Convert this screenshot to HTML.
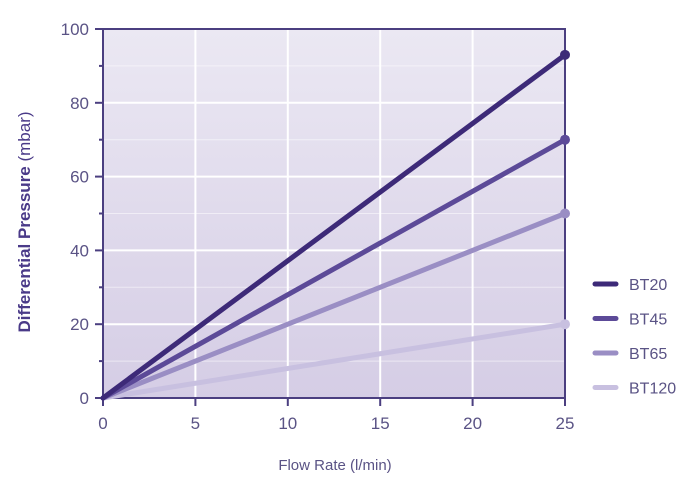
<!DOCTYPE html>
<html><head><meta charset="utf-8"><style>
body{margin:0;background:#fff;width:700px;height:494px;overflow:hidden}
text{font-family:"Liberation Sans",sans-serif}
</style></head><body>
<svg width="700" height="494">
<defs><linearGradient id="bg" x1="0" y1="0" x2="0" y2="1"><stop offset="0" stop-color="#ebe8f3"/><stop offset="1" stop-color="#d5cde5"/></linearGradient></defs>
<rect x="103" y="29" width="462" height="369" fill="url(#bg)"/>
<g id="grid"></g><g id="axes"></g><g id="series"></g><g id="legend"></g>
<text x="335" y="470" text-anchor="middle" font-size="15" fill="#5a5385">Flow Rate (l/min)</text>
<text transform="translate(30,222) rotate(-90)" text-anchor="middle" font-size="17" fill="#4a3a88"><tspan font-weight="bold">Differential Pressure</tspan> (mbar)</text>
</svg>
<script>
const xTicks=[0,5,10,15,20,25];
const yTicks=[0,20,40,60,80,100];
const seriesNames=["BT20","BT45","BT65","BT120"];
const endValues=[93,70,50,20];
const startValues=[0,0,0,0];
const colors=["#3d2a78","#5c4a98","#9a8ec4","#c8c0e0"];
const X0=103,X1=565,Y0=398,Y1=29;
const sx=v=>X0+(v-0)/25*(X1-X0), sy=v=>Y0-(v/100)*(Y0-Y1);
const NS="http://www.w3.org/2000/svg";
function mk(t,a,p){const e=document.createElementNS(NS,t);for(const k in a)e.setAttribute(k,a[k]);p.appendChild(e);return e;}
const g=document.getElementById('grid'),ax=document.getElementById('axes'),s=document.getElementById('series'),lg=document.getElementById('legend');
for(let v=10;v<100;v+=10){const l=mk('line',{x1:X0,x2:X1,y1:sy(v),y2:sy(v),stroke:'#fff','stroke-width':v%20?1:2,'stroke-opacity':v%20?0.5:1},g);

}
xTicks.forEach(v=>{if(v>0&&v<25){const l=mk('line',{x1:sx(v),x2:sx(v),y1:Y1,y2:Y0,stroke:'#fff','stroke-width':2},g);

}});
mk('path',{d:`M${X0},${Y1}V${Y0}H${X1}V${Y1}H${X0}`,fill:'none',stroke:'#4b3f80','stroke-width':2},ax);
for(let v=0;v<=100;v+=10){mk('line',{x1:X0-(v%20?4:8),x2:X0,y1:sy(v),y2:sy(v),stroke:'#4b3f80','stroke-width':2},ax);}
yTicks.forEach(v=>{const t=mk('text',{x:X0-14,y:sy(v)+6,'text-anchor':'end','font-size':17,fill:'#5a5385'},ax);t.textContent=v;

});
xTicks.forEach(v=>{mk('line',{x1:sx(v),x2:sx(v),y1:Y0,y2:Y0+8,stroke:'#4b3f80','stroke-width':2},ax);
const t=mk('text',{x:sx(v),y:Y0+31,'text-anchor':'middle','font-size':17,fill:'#5a5385'},ax);t.textContent=v;

});
seriesNames.slice().reverse().forEach((n,ri)=>{const i=seriesNames.length-1-ri;
const l=mk('line',{x1:sx(0),y1:sy(startValues[i]),x2:sx(25),y2:sy(endValues[i]),stroke:colors[i],'stroke-width':5,'stroke-linecap':'round'},s);


const c=mk('circle',{cx:sx(25),cy:sy(endValues[i]),r:5,fill:colors[i]},s);

});
seriesNames.forEach((n,i)=>{const y=284+i*34.5;
const l=mk('line',{x1:595,x2:616,y1:y,y2:y,stroke:colors[i],'stroke-width':5,'stroke-linecap':'round'},lg);


const t=mk('text',{x:629,y:y+6,'font-size':16,fill:'#5a5385'},lg);t.textContent=n;

});
</script>
</body></html>
